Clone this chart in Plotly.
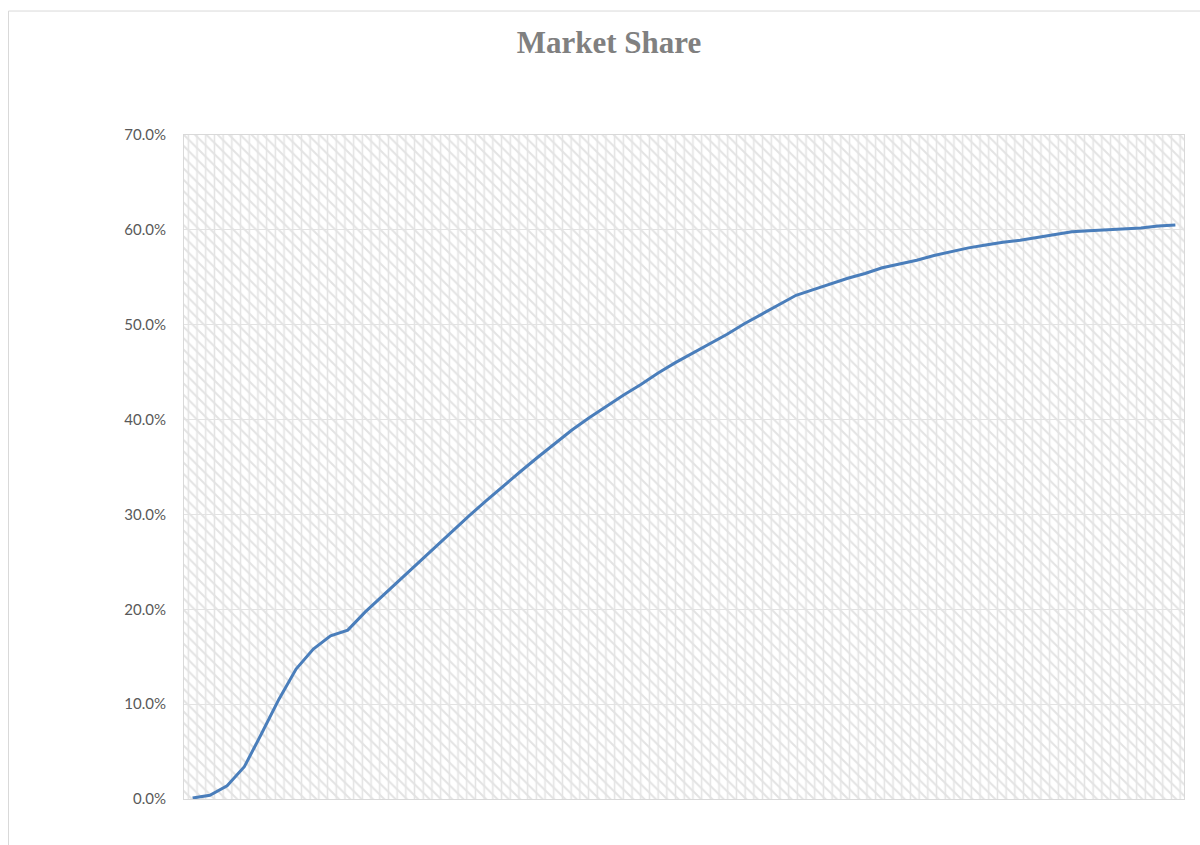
import plotly.graph_objects as go

# Market share by period (fraction of market)
periods = list(range(1, 59))
market_share = [
    0.001, 0.004, 0.014, 0.034, 0.069, 0.105, 0.137, 0.158, 0.172, 0.178,
    0.197, 0.214, 0.231, 0.248, 0.265, 0.282, 0.298, 0.314, 0.330, 0.345,
    0.360, 0.375, 0.389, 0.402, 0.414, 0.426, 0.437, 0.449, 0.460, 0.470,
    0.480, 0.490, 0.501, 0.511, 0.521, 0.531, 0.537, 0.543, 0.549, 0.554,
    0.560, 0.564, 0.568, 0.573, 0.577, 0.581, 0.584, 0.587, 0.589, 0.592,
    0.595, 0.598, 0.599, 0.600, 0.601, 0.602, 0.604, 0.605,
]
y_ticks = [0.0, 0.1, 0.2, 0.3, 0.4, 0.5, 0.6, 0.7]

x_range = [periods[0] - 0.5, periods[-1] + 0.5]
y_range = [y_ticks[0], y_ticks[-1]]

grid = "#e2e2e2"
hatch = "#e3e3e3"

fig = go.Figure()

# hatched plot-area background (diagonal + vertical pattern)
box_x = [x_range[0], x_range[1], x_range[1], x_range[0], x_range[0]]
box_y = [y_range[0], y_range[0], y_range[1], y_range[1], y_range[0]]
for shape, size, solidity in [("\\", 8, 0.25), ("|", 8.7, 0.18)]:
    fig.add_trace(go.Scatter(
        x=box_x, y=box_y, mode="none", fill="toself",
        fillcolor="rgba(0,0,0,0)",
        fillpattern=dict(shape=shape, size=size, solidity=solidity,
                         fgcolor=hatch, bgcolor="rgba(0,0,0,0)", fgopacity=1),
        hoverinfo="skip", showlegend=False,
    ))

fig.add_trace(go.Scatter(
    x=periods, y=market_share, mode="lines",
    line=dict(color="#4a7ebb", width=3),
    name="Market Share", showlegend=False,
))

fig.update_layout(
    width=1200, height=845,
    margin=dict(l=184, r=16, t=135, b=46),
    paper_bgcolor="white", plot_bgcolor="white",
    title=dict(text="<b>Market Share</b>", x=0.425, xref="paper", xanchor="center",
               y=0.950, yanchor="middle",
               font=dict(family="Liberation Serif", size=31, color="#808080")),
    xaxis=dict(range=x_range, showticklabels=False, showgrid=False, zeroline=False,
               showline=True, mirror=True, linecolor="#d9d9d9", linewidth=1, ticks=""),
    yaxis=dict(range=y_range, tickvals=y_ticks, tickformat=".1%",
               showgrid=True, gridcolor=grid, gridwidth=1, zeroline=False,
               showline=True, mirror=True, linecolor="#d9d9d9", linewidth=1,
               ticks="", ticklabelstandoff=14,
               tickfont=dict(family="Lato", size=15, color="#595959")),
    shapes=[dict(type="rect", xref="paper", yref="paper",
                 x0=-0.1755, x1=1.05, y0=-0.2, y1=1.1867,
                 line=dict(color="#d9d9d9", width=1), fillcolor="rgba(0,0,0,0)",
                 layer="below")],
)

fig.write_html("out.html")
